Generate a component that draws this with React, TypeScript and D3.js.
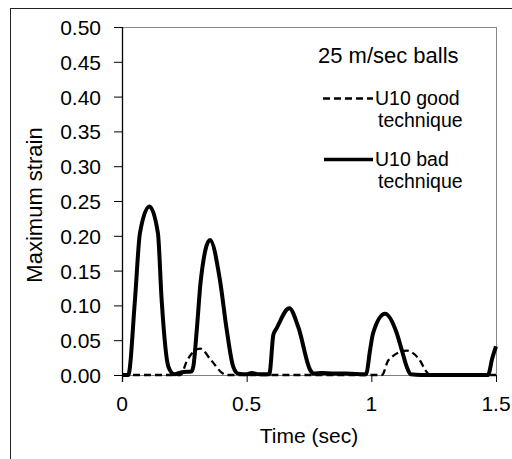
import React from "react";
import * as d3 from "d3";

const xTicks = [0, 0.5, 1, 1.5];
const xTickLabels = ["0", "0.5", "1", "1.5"];
const yTicks = [0, 0.05, 0.1, 0.15, 0.2, 0.25, 0.3, 0.35, 0.4, 0.45, 0.5];

// U10 bad technique (solid)
const badTime = [
  0, 0.025, 0.052, 0.072, 0.11, 0.144, 0.159, 0.186, 0.21, 0.24, 0.278, 0.286, 0.3, 0.316, 0.353, 0.393, 0.42,
  0.446, 0.466, 0.5, 0.52, 0.55, 0.589, 0.593, 0.607, 0.62, 0.671, 0.707, 0.755, 0.768, 0.8, 0.85, 0.9, 0.975,
  0.98, 0.995, 1.007, 1.055, 1.102, 1.122, 1.142, 1.158, 1.2, 1.3, 1.4, 1.468, 1.485, 1.5,
];
const badStrain = [
  0, 0, 0.108, 0.204, 0.242, 0.204, 0.108, 0.012, 0.001, 0.004, 0.005, 0.012, 0.065, 0.136, 0.194, 0.136, 0.065,
  0.012, 0.002, 0.001, 0.003, 0.001, 0.001, 0.004, 0.058, 0.067, 0.096, 0.069, 0.007, 0.002, 0.003, 0.002, 0.002,
  0.001, 0.002, 0.036, 0.06, 0.088, 0.06, 0.036, 0.012, 0.001, 0, 0, 0, 0, 0.024, 0.041,
];

// U10 good technique (dashed)
const goodTime = [0, 0.235, 0.26, 0.313, 0.36, 0.405, 0.42, 1.04, 1.046, 1.068, 1.142, 1.189, 1.228, 1.24, 1.5];
const goodStrain = [0, 0, 0.02, 0.038, 0.02, 0.002, 0, 0, 0.001, 0.021, 0.035, 0.024, 0.002, 0, 0];

const FONT = "'Liberation Sans', Arial, sans-serif";

export default function App() {
  const x = d3.scaleLinear().domain([0, 1.5]).range([122, 496]);
  const y = d3.scaleLinear().domain([0, 0.5]).range([375, 27]);
  const line = d3
    .line<[number, number]>()
    .x((d) => x(d[0]))
    .y((d) => y(d[1]))
    .curve(d3.curveMonotoneX);
  const bad = badTime.map((t, i) => [t, badStrain[i]] as [number, number]);
  const good = goodTime.map((t, i) => [t, goodStrain[i]] as [number, number]);
  const fs = 21;
  const lfs = 19.5;

  return (
    <div style={{ position: "fixed", left: 0, top: 0 }}>
      <svg width={512} height={459} style={{ display: "block", background: "#fff" }} fontFamily={FONT}>
        <rect x={10.5} y={8.5} width={700} height={700} fill="#fff" stroke="#222" strokeWidth={1} />
        {/* plot border */}
        <line x1={x(0)} x2={x(1.5)} y1={y(0.5) + 0.5} y2={y(0.5) + 0.5} stroke="#888" strokeWidth={1} />
        <line x1={x(1.5) + 0.5} x2={x(1.5) + 0.5} y1={y(0.5)} y2={y(0)} stroke="#888" strokeWidth={1} />
        {/* x axis */}
        <line x1={x(0)} x2={x(1.5)} y1={y(0) + 0.5} y2={y(0) + 0.5} stroke="#808080" strokeWidth={1} />
        {xTicks.map((t, i) => (
          <g key={"xt" + i}>
            <line x1={x(t) + 0.5} x2={x(t) + 0.5} y1={y(0)} y2={y(0) + 7} stroke="#000" strokeWidth={1} />
            <text x={x(t)} y={411} fontSize={fs} textAnchor="middle" fill="#000">
              {xTickLabels[i]}
            </text>
          </g>
        ))}
        {/* y axis */}
        <line x1={x(0) + 0.5} x2={x(0) + 0.5} y1={y(0.5)} y2={y(0) + 7} stroke="#000" strokeWidth={1.3} />
        {yTicks.map((t, i) => (
          <g key={"yt" + i}>
            <line x1={x(0) - 8} x2={x(0)} y1={y(t) + 0.5} y2={y(t) + 0.5} stroke="#000" strokeWidth={1} />
            <text x={101} y={y(t) + 8} fontSize={fs} textAnchor="end" fill="#000">
              {t.toFixed(2)}
            </text>
          </g>
        ))}
        <text x={309} y={443} fontSize={fs} textAnchor="middle" fill="#000">
          Time (sec)
        </text>
        <text transform="translate(42,205) rotate(-90)" fontSize={22} textAnchor="middle" fill="#000">
          Maximum strain
        </text>
        {/* series */}
        <path d={line(good) || ""} fill="none" stroke="#000" strokeWidth={2.3} strokeDasharray="7,4" />
        <path d={line(bad) || ""} fill="none" stroke="#000" strokeWidth={4} strokeLinejoin="round" />
        {/* legend */}
        <text x={318} y={63} fontSize={22} fill="#000">
          25 m/sec balls
        </text>
        <line x1={323} x2={373} y1={98.5} y2={98.5} stroke="#000" strokeWidth={2.3} strokeDasharray="7,4" />
        <text x={375} y={105} fontSize={lfs} fill="#000">
          U10 good
        </text>
        <text x={378} y={127} fontSize={lfs} fill="#000">
          technique
        </text>
        <line x1={324} x2={373} y1={159.5} y2={159.5} stroke="#000" strokeWidth={3.5} />
        <text x={375} y={166} fontSize={lfs} fill="#000">
          U10 bad
        </text>
        <text x={378} y={188} fontSize={lfs} fill="#000">
          technique
        </text>
      </svg>
    </div>
  );
}
